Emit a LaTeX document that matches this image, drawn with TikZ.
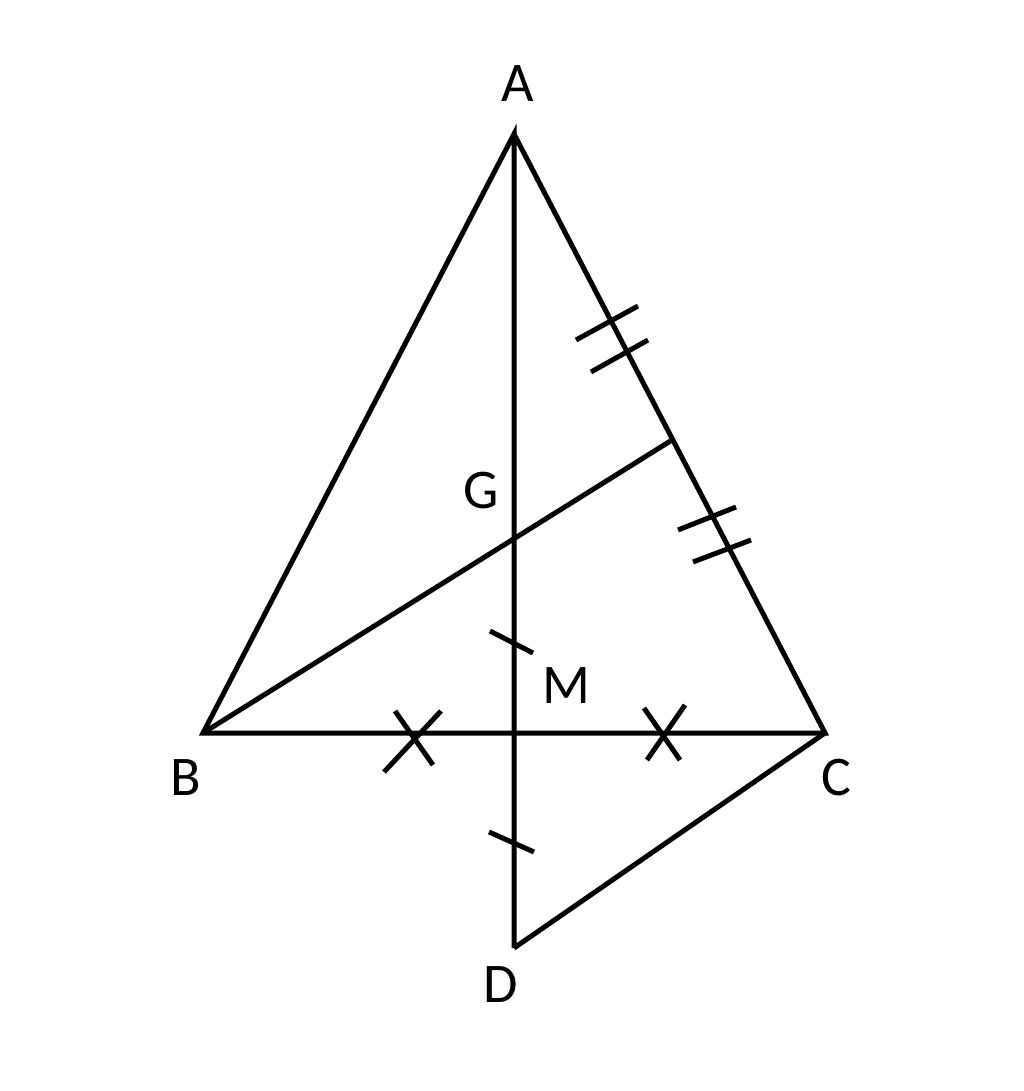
\documentclass[tikz,border=0pt]{standalone}
\usepackage{fontspec}
\setmainfont{Carlito}
\begin{document}
\begin{tikzpicture}[x=1pt,y=-1pt,
  seg/.style={line width=5pt,line join=miter,black},
  tick/.style={line width=5pt,black},
  lbl/.style={font=\fontsize{56}{60}\selectfont,inner sep=0pt}]
\useasboundingbox (0,0) rectangle (1024,1091);
\coordinate (A) at (514,134);
\coordinate (B) at (203,733);
\coordinate (C) at (825,733);
\coordinate (D) at (514,948);
\coordinate (M) at (514,733);
\coordinate (N) at (672,440);
\draw[seg] (D) -- (A) -- (B) -- (C) -- (A);
\draw[seg] (C) -- (D);
\draw[seg] (B) -- (N);
% double ticks on AC
\draw[tick] (576,340) -- (638,306);
\draw[tick] (591,372) -- (648,340);
\draw[tick] (678,530) -- (736,507);
\draw[tick] (693,562) -- (751,540);
% crosses on BC
\draw[tick] (384,772) -- (441,711);
\draw[tick] (395,711) -- (433,765);
\draw[tick] (644,708) -- (680,760);
\draw[tick] (647,760) -- (685,705);
% ticks on AD
\draw[tick] (490,631) -- (533,653);
\draw[tick] (489,832) -- (534,852);
% labels
\node[lbl] (lA) at (518,84) {A};
\node[lbl] (lB) at (186,778) {B};
\node[lbl] (lC) at (836,778) {C};
\node[lbl] (lD) at (501,985) {D};
\node[lbl] (lG) at (481,491) {G};
\node[lbl] (lM) at (566,686) {M};
\end{tikzpicture}
\end{document}
